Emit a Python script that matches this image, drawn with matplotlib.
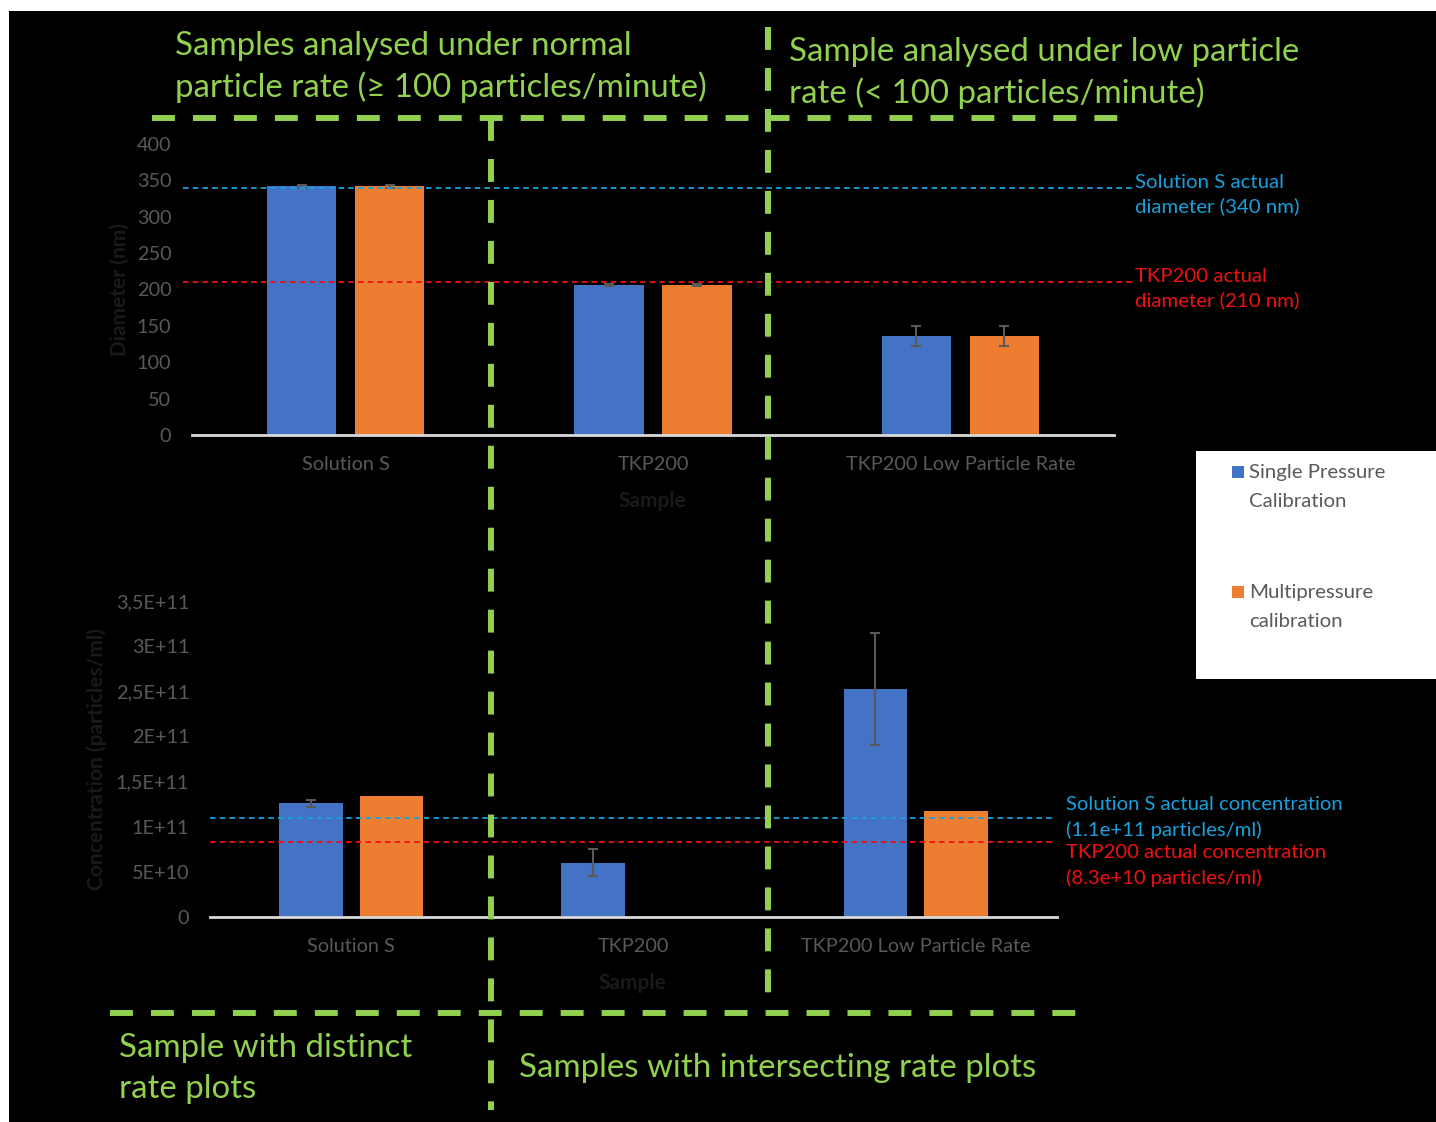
import numpy as np
import matplotlib
matplotlib.use("Agg")
import matplotlib.pyplot as plt
from matplotlib.lines import Line2D
from matplotlib.patches import Rectangle

plt.rcParams['font.family'] = ['Lato', 'DejaVu Sans']
plt.rcParams['lines.scale_dashes'] = False

# ---- data ----
categories = ["Solution S", "TKP200", "TKP200 Low Particle Rate"]
series_names = ["Single Pressure\nCalibration", "Multipressure\ncalibration"]

diam_single = [342, 206, 136]
diam_multi = [342, 206, 136]
diam_single_err = [2, 1.5, 14]
diam_multi_err = [2, 1.5, 14]

conc_single = [1.26e11, 6.0e10, 2.53e11]
conc_multi = [1.34e11, np.nan, 1.17e11]
conc_single_err = [0.04e11, 0.15e11, 0.62e11]

diam_ref_S = 340
diam_ref_TKP = 210
conc_ref_S = 1.1e11
conc_ref_TKP = 8.3e10

diam_ticks = [0, 50, 100, 150, 200, 250, 300, 350, 400]
conc_ticks = [0, 5e10, 1e11, 1.5e11, 2e11, 2.5e11, 3e11, 3.5e11]
conc_tick_labels = ["0", "5E+10", "1E+11", "1,5E+11", "2E+11", "2,5E+11", "3E+11", "3,5E+11"]

# ---- style ----
W, H = 1436, 1122
BLUE = "#4472C4"
ORANGE = "#ED7D31"
GREEN = "#92D050"
REF_BLUE = "#19A0DC"
REF_RED = "#F01010"
TICK_GRAY = "#595959"
TITLE_GRAY = "#1A1A1A"
TICK_FS = 14.3
CAP_FS = 23.8

fig = plt.figure(figsize=(W / 100, H / 100), dpi=100, facecolor="white")


def fx(x):
    return x / W


def fy(y):
    return 1 - y / H


def px_axes(left, top, right, bottom):
    return [fx(left), fy(bottom), (right - left) / W, (bottom - top) / H]


# black panel
fig.add_artist(Rectangle((fx(9), 0), 1 - fx(9), fy(11), transform=fig.transFigure,
                         facecolor="black", edgecolor="none", zorder=0))


def style_axes(ax):
    ax.set_facecolor("none")
    for s in ("left", "right", "top"):
        ax.spines[s].set_visible(False)
    ax.spines["bottom"].set_color("#D9D9D9")
    ax.spines["bottom"].set_linewidth(2)
    ax.tick_params(axis="both", length=0, labelcolor=TICK_GRAY, labelsize=TICK_FS)
    ax.tick_params(axis="y", pad=15)
    ax.tick_params(axis="x", pad=15)


x = np.arange(len(categories))
bw = 0.225
off = 0.143
err_kw = dict(ecolor="#595959", elinewidth=1.5, capsize=3.6, capthick=1.5)

# ---- diameter chart ----
ax1 = fig.add_axes(px_axes(192, 144, 1114, 435))
style_axes(ax1)
ax1.bar(x - off, diam_single, bw, color=BLUE, yerr=diam_single_err, error_kw=err_kw, zorder=2)
ax1.bar(x + off, diam_multi, bw, color=ORANGE, yerr=diam_multi_err, error_kw=err_kw, zorder=2)
ax1.set_xlim(-0.5, 2.5)
ax1.set_ylim(0, 400)
ax1.set_yticks(diam_ticks)
ax1.set_xticks(x)
ax1.set_xticklabels(categories)
ax1.set_ylabel("Diameter (nm)", color=TITLE_GRAY, fontsize=15, fontweight="bold")
ax1.yaxis.set_label_coords(-0.068, 0.5)
ax1.set_xlabel("Sample", color=TITLE_GRAY, fontsize=15, fontweight="bold")
ax1.xaxis.set_label_coords(0.499, -0.192)

tr1 = ax1.get_yaxis_transform()
ax1.plot([-0.0098, 1.0217], [diam_ref_S] * 2, transform=tr1, clip_on=False,
         color=REF_BLUE, lw=1.3, dashes=(4, 3), zorder=3)
ax1.plot([-0.0098, 1.0217], [diam_ref_TKP] * 2, transform=tr1, clip_on=False,
         color=REF_RED, lw=1.3, dashes=(4, 3), zorder=3)
ax1.text(1.0228, diam_ref_S + 19, "Solution S actual\ndiameter (340 nm)", transform=tr1,
         color=REF_BLUE, fontsize=14.7, va="top", ha="left", linespacing=1.45,
         clip_on=False)
ax1.text(1.0228, diam_ref_TKP + 20, "TKP200 actual\ndiameter (210 nm)", transform=tr1,
         color=REF_RED, fontsize=14.7, va="top", ha="left", linespacing=1.45,
         clip_on=False)

# ---- concentration chart ----
ax2 = fig.add_axes(px_axes(210, 601, 1057, 917))
style_axes(ax2)
ax2.bar(x - off, conc_single, bw, color=BLUE, yerr=conc_single_err, error_kw=err_kw, zorder=2)
ax2.bar(x + off, conc_multi, bw, color=ORANGE, zorder=2)
ax2.set_xlim(-0.5, 2.5)
ax2.set_ylim(0, 3.5e11)
ax2.set_yticks(conc_ticks)
ax2.set_yticklabels(conc_tick_labels)
ax2.set_xticks(x)
ax2.set_xticklabels(categories)
ax2.set_ylabel("Concentration (particles/ml)", color=TITLE_GRAY, fontsize=15, fontweight="bold")
ax2.yaxis.set_label_coords(-0.1216, 0.5)
ax2.set_xlabel("Sample", color=TITLE_GRAY, fontsize=15, fontweight="bold")
ax2.xaxis.set_label_coords(0.499, -0.177)

tr2 = ax2.get_yaxis_transform()
ax2.plot([0, 0.9976], [conc_ref_S] * 2, transform=tr2, clip_on=False,
         color=REF_BLUE, lw=1.3, dashes=(4, 3), zorder=3)
ax2.plot([0, 0.9976], [conc_ref_TKP] * 2, transform=tr2, clip_on=False,
         color=REF_RED, lw=1.3, dashes=(4, 3), zorder=3)
ax2.text(1.0106, conc_ref_S + 0.235e11, "Solution S actual concentration\n(1.1e+11 particles/ml)",
         transform=tr2, color=REF_BLUE, fontsize=14.6, va="top", ha="left",
         linespacing=1.5, clip_on=False)
ax2.text(1.0106, conc_ref_TKP - 0.025e11, "TKP200 actual concentration\n(8.3e+10 particles/ml)",
         transform=tr2, color=REF_RED, fontsize=14.6, va="top", ha="left",
         linespacing=1.5, clip_on=False)

# ---- region dividers ----
def green_dash(x0, y0, x1, y1):
    fig.add_artist(Line2D([fx(x0), fx(x1)], [fy(y0), fy(y1)], transform=fig.transFigure,
                          color=GREEN, lw=4.3, dashes=(16.5, 13), solid_capstyle="butt",
                          dash_capstyle="butt", zorder=5))


green_dash(152, 118, 1120, 118)
green_dash(110, 1013, 1080, 1013)
green_dash(491, 118, 491, 1110)
green_dash(768, 27, 768, 997)

# ---- region captions ----
cap_kw = dict(color=GREEN, fontsize=CAP_FS, ha="left", va="baseline", transform=fig.transFigure)
fig.text(fx(175), fy(55), "Samples analysed under normal", **cap_kw)
fig.text(fx(175), fy(97), "particle rate (\u2265 100 particles/minute)", **cap_kw)
fig.text(fx(789), fy(61), "Sample analysed under low particle", **cap_kw)
fig.text(fx(789), fy(103), "rate (< 100 particles/minute)", **cap_kw)
fig.text(fx(119), fy(1057), "Sample with distinct", **cap_kw)
fig.text(fx(119), fy(1098), "rate plots", **cap_kw)
fig.text(fx(519), fy(1077), "Samples with intersecting rate plots", **cap_kw)

# ---- legend ----
fig.add_artist(Rectangle((fx(1196), fy(679)), fx(1436) - fx(1196), (679 - 451) / H,
                         transform=fig.transFigure, facecolor="white", edgecolor="none", zorder=4))
for name, col, ytop in zip(series_names, [BLUE, ORANGE], [466, 586]):
    fig.add_artist(Rectangle((fx(1232), fy(ytop + 12)), 12 / W, 12 / H, transform=fig.transFigure,
                             facecolor=col, edgecolor="none", zorder=5))
    fig.text(fx(1249), fy(ytop - 2), name, color=TICK_GRAY, fontsize=14.7, ha="left", va="top",
             linespacing=1.85, zorder=6)

fig.savefig("out.png", dpi=100, facecolor="white")
